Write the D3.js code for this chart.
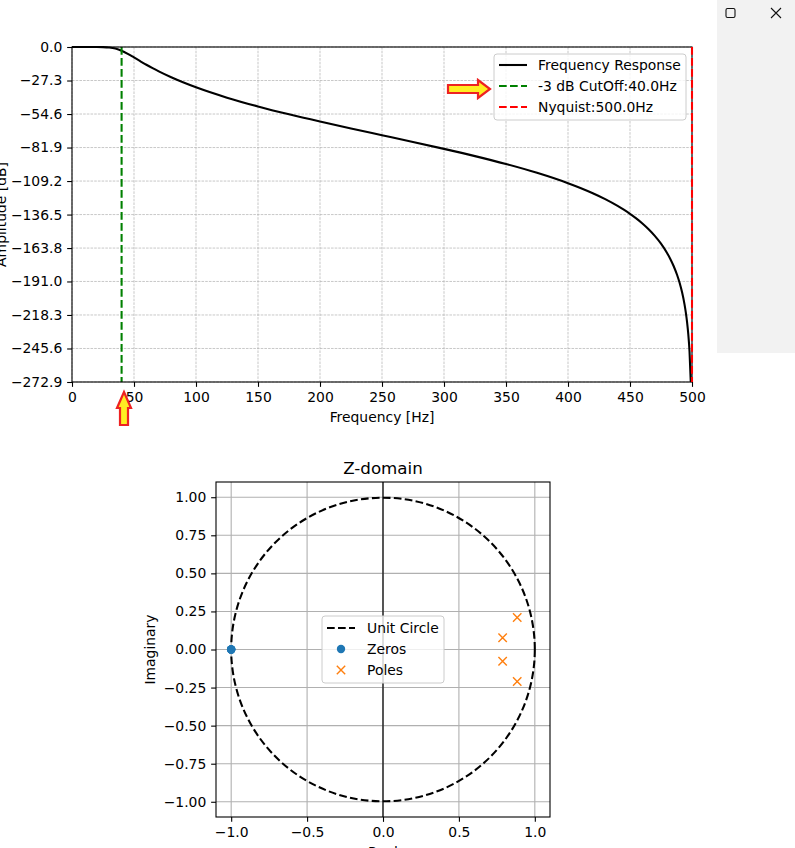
<!DOCTYPE html>
<html>
<head>
<meta charset="utf-8">
<script src="https://cdn.jsdelivr.net/npm/d3@7"></script>
<style>
  body { margin: 0; background: #fff; }
  svg { display: block; font-family: 'DejaVu Sans', sans-serif; }
</style>
</head>
<body>
<div id="chart"></div>
<script>
// ---- data ----
const freqs = [0, 10, 20, 25, 30, 35, 40, 45, 50, 55, 60, 65, 70, 80, 90, 100, 125, 150, 175, 200, 225, 250,
  275, 300, 325, 350, 375, 400, 410, 420, 430, 440, 445, 450, 455, 460, 465, 470, 475, 480, 482.5, 485,
  488, 490, 492, 494, 495, 496, 497, 498, 499]
const ampDb = [0, 0, -0.02, -0.1, -0.41, -1.27, -3.01, -5.56, -8.52, -11.54, -14.48, -17.26, -19.87,
  -24.65, -28.94, -32.83, -41.26, -48.45, -54.87, -60.78, -66.4, -71.88, -77.36, -82.98, -88.89, -95.31,
  -102.5, -110.94, -114.82, -119.12, -123.93, -129.44, -132.53, -135.9, -139.62, -143.76, -148.44,
  -153.84, -160.2, -167.98, -172.63, -178.0, -185.75, -192.1, -199.85, -209.85, -216.19, -223.94,
  -233.93, -248.02, -272.9]
const cutoff = 40
const nyquist = 500
const freqTicks = [0, 50, 100, 150, 200, 250, 300, 350, 400, 450, 500]
const dbTicks = [0, -27.3, -54.6, -81.9, -109.2, -136.5, -163.8, -191.0, -218.3, -245.6, -272.9]

const zerosRe = [-1, -1, -1, -1]
const zerosIm = [0, 0, 0, 0]
const polesRe = [0.884, 0.788, 0.788, 0.884]
const polesIm = [0.21, 0.077, -0.077, -0.21]
const reTicks = [-1.0, -0.5, 0.0, 0.5, 1.0]
const imTicks = [-1.0, -0.75, -0.5, -0.25, 0, 0.25, 0.5, 0.75, 1.0]

const width = 795
const height = 848
const fs = 13.9
const minus = s => s.replace('-', '\u2212')

const svg = d3.select('#chart').append('svg')
  .attr('width', width).attr('height', height)

// ---------- upper: frequency response ----------
const m1 = { left: 72, right: 692, top: 47, bottom: 382 }
const x = d3.scaleLinear().domain([0, 500]).range([m1.left, m1.right])
const y = d3.scaleLinear().domain([-272.9, 0]).range([m1.bottom, m1.top])

const g1 = svg.append('g')

// grid
g1.append('g')
  .call(g => g.selectAll('.vx').data(freqTicks).join('line')
    .attr('x1', d => x(d)).attr('x2', d => x(d))
    .attr('y1', m1.top).attr('y2', m1.bottom))
  .call(g => g.selectAll('.hy').data(dbTicks).join('line')
    .attr('x1', m1.left).attr('x2', m1.right)
    .attr('y1', d => y(d)).attr('y2', d => y(d)))
  .selectAll('line')
  .attr('stroke', '#b0b0b0').attr('stroke-width', 0.7).attr('stroke-dasharray', '2.6,1.1')

g1.append('g')
  .attr('transform', `translate(0,${m1.bottom})`)
  .call(d3.axisBottom(x).tickValues(freqTicks).tickFormat(d3.format('d')).tickSize(4.86).tickPadding(4.86))
  .call(g => g.select('.domain').remove())

g1.append('g')
  .attr('transform', `translate(${m1.left},0)`)
  .call(d3.axisLeft(y).tickValues(dbTicks).tickFormat(d => minus(d3.format('.1f')(d))).tickSize(4.86).tickPadding(4.86))
  .call(g => g.select('.domain').remove())

g1.selectAll('.tick line').attr('stroke', '#000').attr('stroke-width', 1.1)
g1.selectAll('.tick text').attr('font-size', fs).attr('fill', '#000').attr('font-family', 'DejaVu Sans')

// response curve
const line = d3.line().x((d, i) => x(freqs[i])).y(d => y(d)).curve(d3.curveMonotoneX)
g1.append('path')
  .datum(ampDb)
  .attr('d', line)
  .attr('fill', 'none').attr('stroke', '#000').attr('stroke-width', 2.08)

g1.append('line')
  .attr('x1', x(cutoff)).attr('x2', x(cutoff)).attr('y1', m1.top).attr('y2', m1.bottom)
  .attr('stroke', '#008000').attr('stroke-width', 2.08).attr('stroke-dasharray', '7.7,3.3')

g1.append('rect')
  .attr('x', m1.left).attr('y', m1.top)
  .attr('width', m1.right - m1.left).attr('height', m1.bottom - m1.top)
  .attr('fill', 'none').attr('stroke', '#000').attr('stroke-width', 1.1)

g1.append('line')
  .attr('x1', x(nyquist)).attr('x2', x(nyquist)).attr('y1', m1.top).attr('y2', m1.bottom)
  .attr('stroke', '#ff0000').attr('stroke-width', 2.08).attr('stroke-dasharray', '7.7,3.3')

g1.append('text')
  .attr('x', (m1.left + m1.right) / 2).attr('y', 422)
  .attr('text-anchor', 'middle').attr('font-size', fs)
  .text('Frequency [Hz]')

g1.append('text')
  .attr('transform', `translate(6,${(m1.top + m1.bottom) / 2}) rotate(-90)`)
  .attr('text-anchor', 'middle').attr('font-size', fs)
  .text('Amplitude [dB]')

// legend (upper)
const leg1 = [
  { label: 'Frequency Response', color: '#000', dash: null },
  { label: '-3 dB CutOff:' + cutoff.toFixed(1) + 'Hz', color: '#008000', dash: '7.7,3.3' },
  { label: 'Nyquist:' + nyquist.toFixed(1) + 'Hz', color: '#ff0000', dash: '7.7,3.3' }
]
const l1 = g1.append('g').attr('transform', 'translate(494,54)')
l1.append('rect')
  .attr('width', 192).attr('height', 66).attr('rx', 3)
  .attr('fill', 'rgba(255,255,255,0.8)').attr('stroke', '#cccccc').attr('stroke-width', 1)
l1.selectAll('g').data(leg1).join('g')
  .attr('transform', (d, i) => `translate(0,${11 + i * 21})`)
  .call(g => g.append('line')
    .attr('x1', 5).attr('x2', 33)
    .attr('stroke', d => d.color).attr('stroke-width', 2.08)
    .attr('stroke-dasharray', d => d.dash))
  .call(g => g.append('text')
    .attr('x', 44).attr('dy', '0.35em').attr('font-size', fs)
    .text(d => d.label))

// annotation arrows
const arrowStyle = s => s.attr('fill', '#ffee22').attr('stroke', '#ee2222').attr('stroke-width', 2.2).attr('stroke-linejoin', 'miter')
svg.append('path')
  .attr('d', 'M448,85 L478,85 L478,80 L490,89 L478,98 L478,93 L448,93 Z')
  .call(arrowStyle)
svg.append('path')
  .attr('d', 'M120,425 L120,408 L117,408 L124,392 L131,408 L128,408 L128,425 Z')
  .call(arrowStyle)

// ---------- lower: z-plane ----------
const m2 = { left: 216, right: 550, top: 482, bottom: 817 }
const zx = d3.scaleLinear().domain([-1.1, 1.1]).range([m2.left, m2.right])
const zy = d3.scaleLinear().domain([-1.1, 1.1]).range([m2.bottom, m2.top])

const g2 = svg.append('g')

g2.append('g')
  .call(g => g.selectAll('.vx').data(reTicks).join('line')
    .attr('x1', d => zx(d)).attr('x2', d => zx(d))
    .attr('y1', m2.top).attr('y2', m2.bottom))
  .call(g => g.selectAll('.hy').data(imTicks).join('line')
    .attr('x1', m2.left).attr('x2', m2.right)
    .attr('y1', d => zy(d)).attr('y2', d => zy(d)))
  .selectAll('line')
  .attr('stroke', '#b0b0b0').attr('stroke-width', 1.1)

g2.append('g')
  .attr('transform', `translate(0,${m2.bottom})`)
  .call(d3.axisBottom(zx).tickValues(reTicks).tickFormat(d => minus(d3.format('.1f')(d))).tickSize(4.86).tickPadding(4.86))
  .call(g => g.select('.domain').remove())

g2.append('g')
  .attr('transform', `translate(${m2.left},0)`)
  .call(d3.axisLeft(zy).tickValues(imTicks).tickFormat(d => minus(d3.format('.2f')(d))).tickSize(4.86).tickPadding(4.86))
  .call(g => g.select('.domain').remove())

g2.selectAll('.tick line').attr('stroke', '#000').attr('stroke-width', 1.1)
g2.selectAll('.tick text').attr('font-size', fs).attr('fill', '#000').attr('font-family', 'DejaVu Sans')

g2.append('line')
  .attr('x1', zx(0)).attr('x2', zx(0)).attr('y1', m2.top).attr('y2', m2.bottom)
  .attr('stroke', '#000').attr('stroke-width', 1.2)

g2.append('circle')
  .attr('cx', zx(0)).attr('cy', zy(0)).attr('r', zx(1) - zx(0))
  .attr('fill', 'none').attr('stroke', '#000').attr('stroke-width', 2.08).attr('stroke-dasharray', '7.7,3.3')

g2.selectAll('.zero').data(zerosRe).join('circle')
  .attr('cx', d => zx(d)).attr('cy', (d, i) => zy(zerosIm[i])).attr('r', 4.2)
  .attr('fill', '#1f77b4')

const cross = (g, s) => g.append('path')
  .attr('d', `M${-s},${-s}L${s},${s}M${-s},${s}L${s},${-s}`)
  .attr('stroke', '#ff7f0e').attr('stroke-width', 1.4).attr('fill', 'none')

g2.selectAll('.pole').data(polesRe).join('g')
  .attr('transform', (d, i) => `translate(${zx(d)},${zy(polesIm[i])})`)
  .each(function () { cross(d3.select(this), 4.2) })

g2.append('rect')
  .attr('x', m2.left).attr('y', m2.top)
  .attr('width', m2.right - m2.left).attr('height', m2.bottom - m2.top)
  .attr('fill', 'none').attr('stroke', '#000').attr('stroke-width', 1.1)

g2.append('text')
  .attr('x', (m2.left + m2.right) / 2).attr('y', 474)
  .attr('text-anchor', 'middle').attr('font-size', 16.7)
  .text('Z-domain')

g2.append('text')
  .attr('x', (m2.left + m2.right) / 2).attr('y', 857)
  .attr('text-anchor', 'middle').attr('font-size', fs)
  .text('Real')

g2.append('text')
  .attr('transform', `translate(155,${(m2.top + m2.bottom) / 2}) rotate(-90)`)
  .attr('text-anchor', 'middle').attr('font-size', fs)
  .text('Imaginary')

// legend (lower)
const l2 = g2.append('g').attr('transform', 'translate(322,616)')
l2.append('rect')
  .attr('width', 122).attr('height', 67).attr('rx', 3)
  .attr('fill', 'rgba(255,255,255,0.8)').attr('stroke', '#cccccc').attr('stroke-width', 1)
const rows = l2.selectAll('g').data(['Unit Circle', 'Zeros', 'Poles']).join('g')
  .attr('transform', (d, i) => `translate(0,${12 + i * 21})`)
rows.append('text')
  .attr('x', 45).attr('dy', '0.35em').attr('font-size', fs)
  .text(d => d)
rows.filter((d, i) => i === 0).append('line')
  .attr('x1', 5).attr('x2', 33)
  .attr('stroke', '#000').attr('stroke-width', 2.08).attr('stroke-dasharray', '7.7,3.3')
rows.filter((d, i) => i === 1).append('circle')
  .attr('cx', 19).attr('r', 4.2).attr('fill', '#1f77b4')
rows.filter((d, i) => i === 2).append('g')
  .attr('transform', 'translate(19,0)')
  .each(function () { cross(d3.select(this), 4.2) })

// window panel at the right edge
const win = svg.append('g')
win.append('rect').attr('x', 717).attr('y', 0).attr('width', 78).attr('height', 353).attr('fill', '#f2f2f2')
win.append('rect').attr('x', 726).attr('y', 8.5).attr('width', 9).attr('height', 9).attr('rx', 1.5)
  .attr('fill', 'none').attr('stroke', '#111').attr('stroke-width', 1.1)
win.append('path').attr('d', 'M771,8L781,18M771,18L781,8')
  .attr('stroke', '#111').attr('stroke-width', 1.1)
</script>
</body>
</html>
